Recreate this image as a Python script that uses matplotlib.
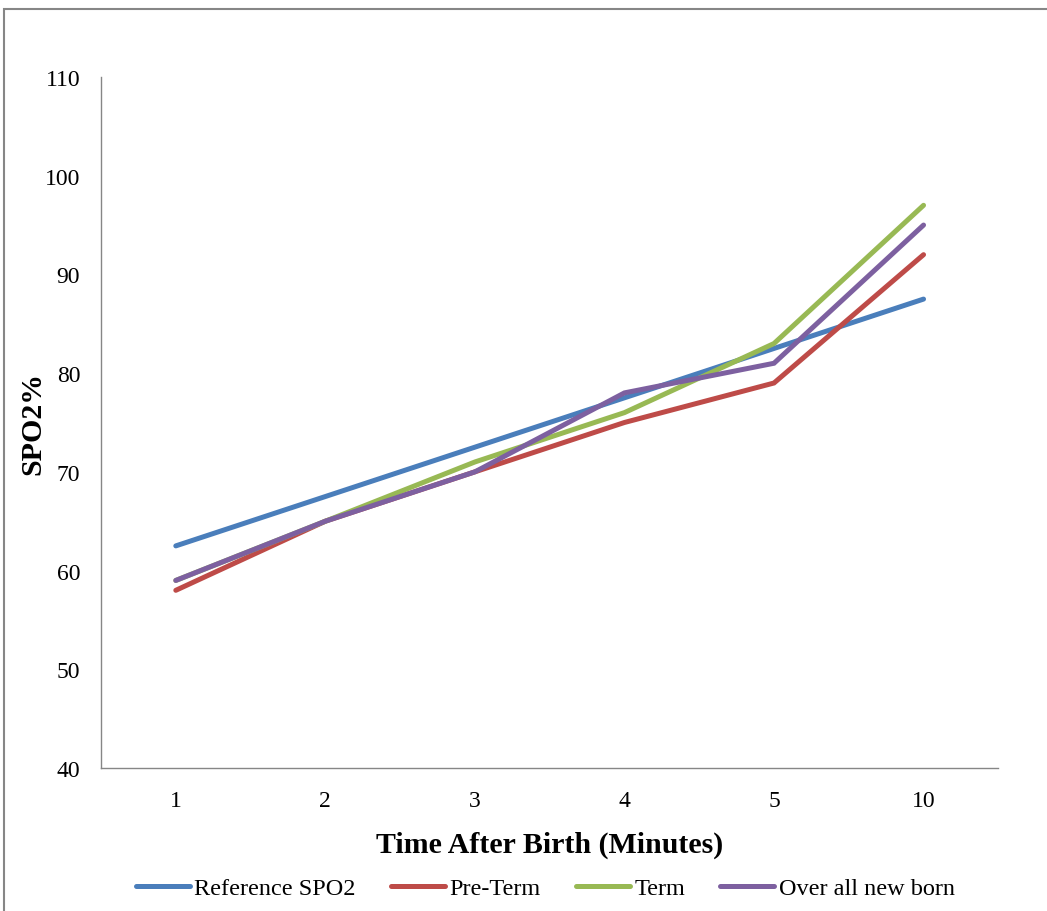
import matplotlib.pyplot as plt
from matplotlib.patches import Rectangle

plt.rcParams['font.family'] = ['Liberation Serif', 'DejaVu Serif']

# Data
minutes = ['1', '2', '3', '4', '5', '10']
reference_spo2 = [62.5, 67.5, 72.5, 77.5, 82.5, 87.5]
pre_term = [58, 65, 70, 75, 79, 92]
term = [59, 65, 71, 76, 83, 97]
overall = [59, 65, 70, 78, 81, 95]

series = [
    ('Reference SPO2', reference_spo2, '#4A7EBB'),
    ('Pre-Term', pre_term, '#BE4B48'),
    ('Term', term, '#98B954'),
    ('Over all new born', overall, '#7D60A0'),
]

fig = plt.figure(figsize=(10.47, 9.12), dpi=100)
ax = fig.add_axes([0.0965, 0.1568, 0.857, 0.7577])

x = list(range(1, len(minutes) + 1))
for name, vals, color in series:
    ax.plot(x, vals, color=color, linewidth=3.6, solid_capstyle='round',
            solid_joinstyle='miter', label=name)

ax.set_xlim(0.5, len(minutes) + 0.5)
ax.set_ylim(40, 110)
ax.set_yticks(range(40, 111, 10))
ax.set_xticks(x)
ax.set_xticklabels(minutes)
ax.tick_params(axis='both', length=0, labelsize=17, colors='black')
ax.tick_params(axis='x', pad=16)
ax.tick_params(axis='y', pad=15)

for side in ['top', 'right']:
    ax.spines[side].set_visible(False)
for side in ['left', 'bottom']:
    ax.spines[side].set_color('#868686')
    ax.spines[side].set_linewidth(1.0)

ax.set_xlabel('Time After Birth (Minutes)', fontsize=21.5, fontweight='bold', labelpad=14)
ax.set_ylabel('SPO2%', fontsize=21.5, fontweight='bold', va='center')
ax.yaxis.set_label_coords((33 - 101) / 897, 0.5)

leg = fig.legend(loc='center', bbox_to_anchor=(0.521, 0.025), ncol=4, frameon=False,
                 fontsize=17.5, handlelength=2.2, handletextpad=0.2, columnspacing=1.45)

# chart area border
fig.patches.append(Rectangle((4 / 1047, -0.01), 1.05, 1 - 10 / 912 + 0.01,
                             transform=fig.transFigure, fill=False,
                             edgecolor='#868686', linewidth=1.5))

fig.savefig('out.png', dpi=100)
